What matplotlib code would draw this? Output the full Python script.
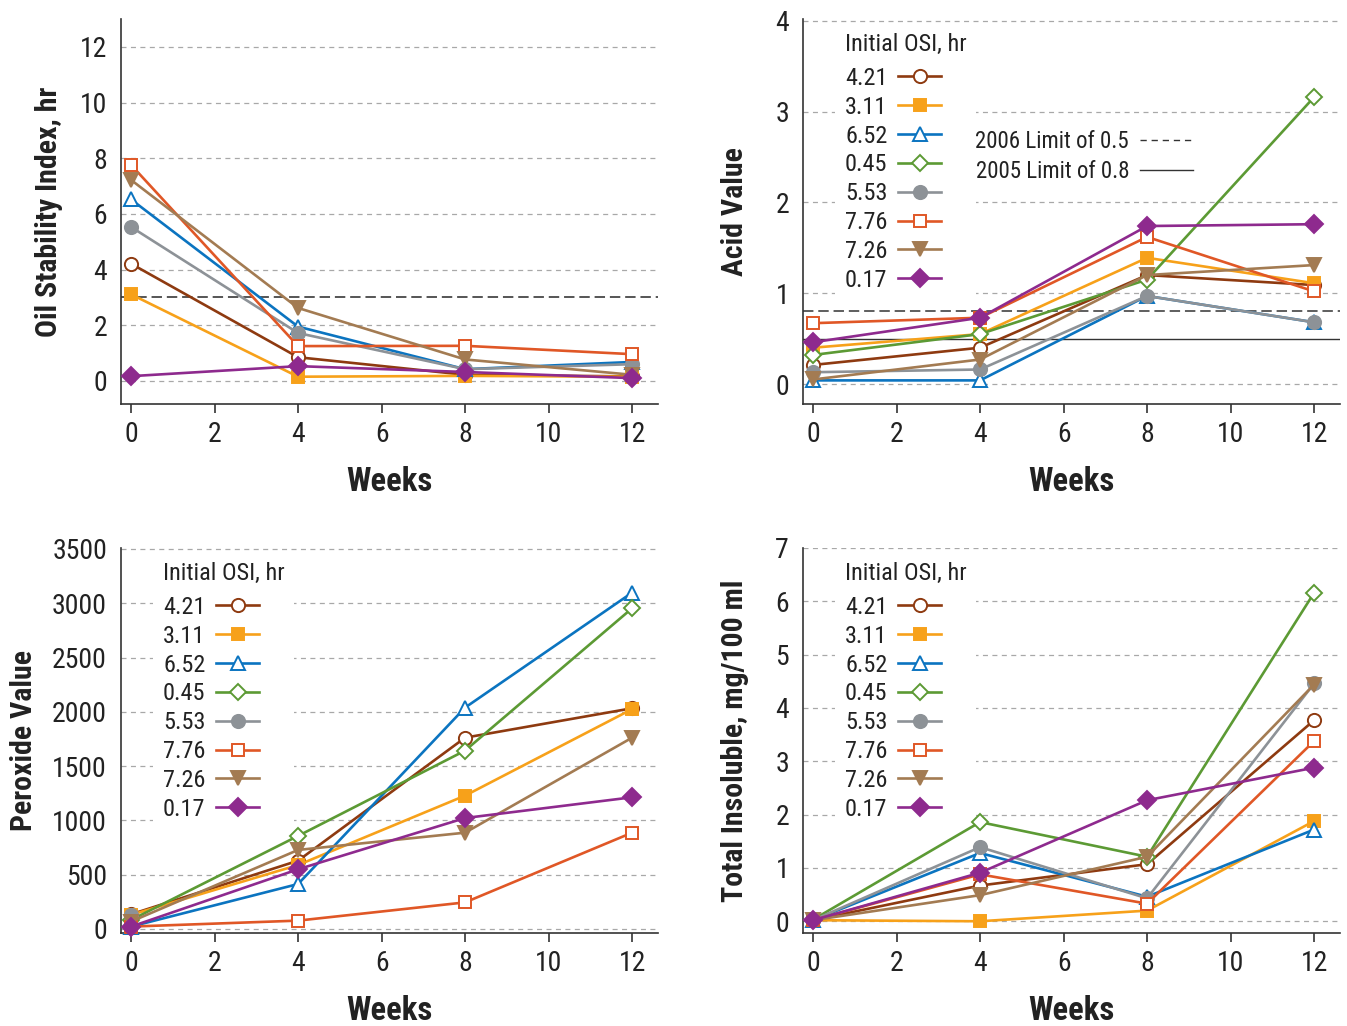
import numpy as np
import matplotlib
matplotlib.use('Agg')
import matplotlib.pyplot as plt
import matplotlib.font_manager as fm
from matplotlib.lines import Line2D

# ---- pick a condensed sans font if one is installed ----
_cands = []
for f in fm.fontManager.ttflist:
    nm = f.name
    st = str(f.stretch)
    if ('Narrow' in nm or 'Condensed' in nm or st in ('condensed', 'semi-condensed', 'extra-condensed')) \
            and 'Mono' not in nm and 'Serif' not in nm and 'CJK' not in nm:
        _cands.append((nm, st))
_pref = ['Liberation Sans Narrow', 'Roboto Condensed', 'Open Sans Condensed', 'Noto Sans',
         'DejaVu Sans', 'Open Sans', 'Roboto']
FAM = None
STRETCH = 'normal'
for p in _pref:
    for nm, st in _cands:
        if nm == p:
            FAM, STRETCH = nm, st
            break
    if FAM:
        break
if FAM is None and _cands:
    FAM, STRETCH = _cands[0]
if FAM is None:
    FAM = 'Liberation Sans'
plt.rcParams['font.family'] = [FAM, 'DejaVu Sans']
plt.rcParams['font.stretch'] = STRETCH if STRETCH != 'normal' else 'normal'
plt.rcParams['lines.scale_dashes'] = False

nan = np.nan
weeks = [0, 4, 8, 12]
initial_osi = ['4.21', '3.11', '6.52', '0.45', '5.53', '7.76', '7.26', '0.17']

osi_hr = [
    [4.21, 0.85, 0.22, 0.16],
    [3.11, 0.15, 0.18, 0.15],
    [6.52, 1.95, 0.42, 0.68],
    [nan, nan, nan, nan],
    [5.53, 1.72, 0.42, 0.60],
    [7.76, 1.25, 1.26, 0.96],
    [7.22, 2.62, 0.77, 0.22],
    [0.17, 0.53, 0.32, 0.10],
]
acid_value = [
    [0.21, 0.40, 1.20, 1.09],
    [0.40, 0.55, 1.39, 1.11],
    [0.04, 0.04, 0.97, 0.68],
    [0.32, 0.55, 1.15, 3.16],
    [0.13, 0.16, 0.97, 0.68],
    [0.67, 0.73, 1.62, 1.02],
    [0.05, 0.27, 1.20, 1.31],
    [0.46, 0.73, 1.74, 1.76],
]
peroxide_value = [
    [135, 629, 1762, 2033],
    [130, 589, 1228, 2025],
    [22, 414, 2039, 3098],
    [83, 857, 1643, 2954],
    [125, nan, nan, nan],
    [22, 77, 245, 887],
    [68, 728, 887, 1762],
    [22, 550, 1022, 1213],
]
total_insoluble = [
    [0.02, 0.67, 1.07, 3.77],
    [0.02, 0.00, 0.20, 1.88],
    [0.02, 1.28, 0.46, 1.72],
    [0.03, 1.86, 1.21, 6.16],
    [0.02, 1.39, 0.43, 4.46],
    [0.02, 0.88, 0.33, 3.38],
    [0.02, 0.49, 1.21, 4.44],
    [0.02, 0.91, 2.27, 2.88],
]
osi_limit = 3.0
acid_limit_2006 = 0.5
acid_limit_2005 = 0.8

colors = ['#8e3a10', '#f7a11a', '#0b74c0', '#5c9a34', '#8d9297', '#e05726', '#a37b52', '#8e2a8e']
markers = ['o', 's', '^', 'D', 'o', 's', 'v', 'D']
hollow = [True, False, True, True, False, True, False, False]
msizes = [9.5, 8.5, 9.5, 8.5, 9.5, 8.5, 10, 9]

W, H = 1347, 1026
fig = plt.figure(figsize=(W / 100, H / 100), dpi=100)

def px_axes(l, t, r, b):
    return fig.add_axes([l / W, 1 - b / H, (r - l) / W, (b - t) / H])

TXT = '#222222'
TICK_FS = 20
LEG_FS = 17.5
LAB_FS = 21.5
LS = 0.24

def style(ax, ylim, yticks):
    ax.set_xlim(-0.24, 12.62)
    ax.set_ylim(*ylim)
    ax.set_xticks([0, 2, 4, 6, 8, 10, 12])
    ax.set_yticks(yticks)
    ax.grid(axis='y', color='#a8a8a8', lw=0.9, ls=(0, (3.6, 3.2)))
    ax.grid(axis='x', visible=False)
    ax.set_axisbelow(True)
    for s in ['top', 'right']:
        ax.spines[s].set_visible(False)
    for s in ['left', 'bottom']:
        ax.spines[s].set_color('#333333')
        ax.spines[s].set_linewidth(1.2)
    ax.tick_params(axis='y', length=0, pad=10, labelsize=TICK_FS, labelcolor=TXT)
    ax.tick_params(axis='x', length=6.5, width=1.2, color='#333333', pad=6,
                   labelsize=TICK_FS, labelcolor=TXT, direction='out')
    ax.set_xlabel('Weeks', fontsize=23.5, fontweight='bold', color=TXT)
    ax.xaxis.set_label_coords(0.5, -0.16)

def draw(ax, data):
    handles = []
    for i, lab in enumerate(initial_osi):
        fc = 'white' if hollow[i] else colors[i]
        ln, = ax.plot(weeks, data[i], color=colors[i], lw=1.9, marker=markers[i],
                      ms=msizes[i], mfc=fc, mec=colors[i], mew=1.4, label=lab,
                      clip_on=False, zorder=3)
        handles.append(ln)
    return handles

def osi_legend(ax, handles):
    leg = ax.legend(handles, initial_osi, title='Initial OSI, hr', loc='upper left',
                    bbox_to_anchor=(0.06, 0.99), markerfirst=False, frameon=True,
                    facecolor='white', edgecolor='none', framealpha=1, fancybox=False,
                    fontsize=LEG_FS, title_fontsize=LEG_FS, alignment='left',
                    handlelength=1.75, handletextpad=0.45, labelspacing=LS,
                    borderpad=0.4, borderaxespad=0)
    leg._legend_box.sep = LS * LEG_FS + 4
    leg.set_zorder(2.5)
    for t in leg.get_texts():
        t.set_color(TXT)
    leg.get_title().set_color(TXT)
    return leg

# Panel 1: Oil Stability Index
ax1 = px_axes(121, 19, 658, 404)
style(ax1, (-0.83, 13.0), [0, 2, 4, 6, 8, 10, 12])
ax1.axhline(osi_limit, color='#555555', lw=1.4, ls=(0, (7.5, 3.5)), zorder=2)
draw(ax1, osi_hr)
ax1.set_ylabel('Oil Stability Index, hr', fontsize=LAB_FS, fontweight='bold', color=TXT)
ax1.yaxis.set_label_coords(-0.108, 0.5)

# Panel 2: Acid Value
ax2 = px_axes(803, 19, 1340, 404)
style(ax2, (-0.22, 4.02), [0, 1, 2, 3, 4])
ax2.axhline(acid_limit_2005, color='#333333', lw=1.1, ls=(0, (7.5, 3.5)), zorder=2)
ax2.axhline(acid_limit_2006, color='#333333', lw=1.0, ls='-', zorder=2)
h2 = draw(ax2, acid_value)
leg2 = osi_legend(ax2, h2)
ax2.add_artist(leg2)
lim_handles = [Line2D([], [], color='#333333', lw=1.0, ls=(0, (4.5, 3.5))),
               Line2D([], [], color='#333333', lw=1.0, ls='-')]
leg2b = ax2.legend(lim_handles, ['2006 Limit of 0.5', '2005 Limit of 0.8'],
                   loc='upper left', bbox_to_anchor=(0.304, 0.735), markerfirst=False,
                   frameon=False, fontsize=16.5, handlelength=2.3, handletextpad=0.5,
                   labelspacing=0.28, borderaxespad=0)
for t in leg2b.get_texts():
    t.set_color(TXT)
ax2.set_ylabel('Acid Value', fontsize=LAB_FS, fontweight='bold', color=TXT)
ax2.yaxis.set_label_coords(-0.1, 0.5)

# Panel 3: Peroxide Value
ax3 = px_axes(121, 548, 658, 933)
style(ax3, (-37, 3509), [0, 500, 1000, 1500, 2000, 2500, 3000, 3500])
h3 = draw(ax3, peroxide_value)
osi_legend(ax3, h3)
ax3.set_ylabel('Peroxide Value', fontsize=LAB_FS, fontweight='bold', color=TXT)
ax3.yaxis.set_label_coords(-0.154, 0.5)

# Panel 4: Total Insoluble
ax4 = px_axes(803, 548, 1340, 933)
style(ax4, (-0.22, 7.0), [0, 1, 2, 3, 4, 5, 6, 7])
h4 = draw(ax4, total_insoluble)
osi_legend(ax4, h4)
ax4.set_ylabel('Total Insoluble, mg/100 ml', fontsize=LAB_FS, fontweight='bold', color=TXT)
ax4.yaxis.set_label_coords(-0.1, 0.5)

fig.savefig('out.png', dpi=100)
